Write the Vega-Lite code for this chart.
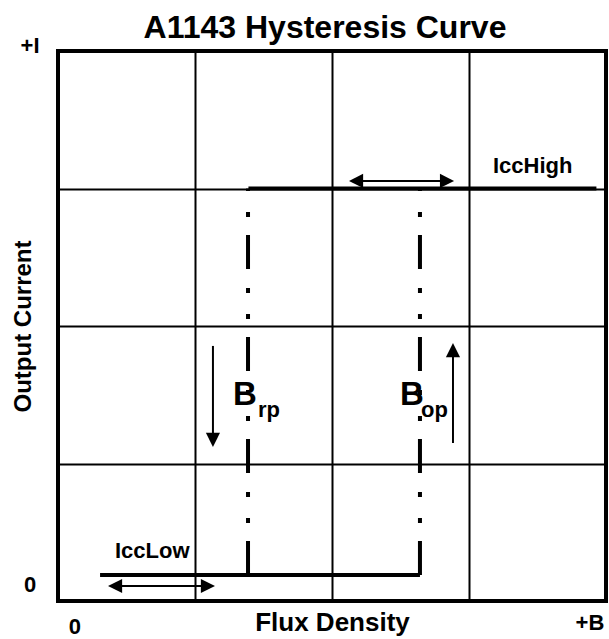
{
  "$schema": "https://vega.github.io/schema/vega-lite/v6.json",
  "width": 548,
  "height": 550,
  "autosize": {"type": "none"},
  "padding": {"left": 58, "top": 51, "right": 3, "bottom": 38},
  "background": "white",
  "title": {"text": "A1143 Hysteresis Curve", "frame": "group", "fontSize": 32, "font": "Liberation Sans", "fontWeight": "bold", "color": "black", "anchor": "middle", "offset": -10, "dx": -7},
  "datasets": {
    "levels": [
      {"name": "IccHigh", "x": 1.39, "x2": 3.93, "y": 3.0},
      {"name": "IccLow", "x": 0.307, "x2": 2.642, "y": 0.189}
    ],
    "switch": [
      {"name": "Brp", "x": 1.387, "y": 0.189, "y2": 3.0},
      {"name": "Bop", "x": 2.642, "y": 0.189, "y2": 3.0}
    ],
    "shafts": [
      {"x": 2.15, "x2": 2.865, "y": 3.055, "y2": 3.055},
      {"x": 0.39, "x2": 1.12, "y": 0.109, "y2": 0.109},
      {"x": 1.131, "x2": 1.131, "y": 1.855, "y2": 1.15},
      {"x": 2.883, "x2": 2.883, "y": 1.149, "y2": 1.846}
    ],
    "heads": [
      {"x": 2.124, "y": 3.055, "dir": "left"},
      {"x": 2.891, "y": 3.055, "dir": "right"},
      {"x": 0.365, "y": 0.109, "dir": "left"},
      {"x": 1.146, "y": 0.109, "dir": "right"},
      {"x": 1.131, "y": 1.12, "dir": "down"},
      {"x": 2.883, "y": 1.876, "dir": "up"}
    ],
    "notes": [
      {"label": "IccHigh", "x": 3.175, "y": 3.113},
      {"label": "IccLow", "x": 0.416, "y": 0.313},
      {"label": "rp", "x": 1.46, "y": 1.338},
      {"label": "op", "x": 2.65, "y": 1.338}
    ],
    "bigB": [
      {"label": "B", "x": 1.277, "y": 1.425},
      {"label": "B", "x": 2.496, "y": 1.425}
    ],
    "ticks": [
      {"label": "+I", "x": -0.204, "y": 4.036},
      {"label": "0", "x": -0.204, "y": 0.116},
      {"label": "0", "x": 0.124, "y": -0.19},
      {"label": "+B", "x": 3.883, "y": -0.16}
    ]
  },
  "encoding": {
    "x": {"field": "x", "type": "quantitative", "scale": {"domain": [0, 4], "nice": false, "zero": false},
          "axis": {"values": [1, 2, 3], "title": "Flux Density", "titlePadding": 8, "titleFontSize": 26}},
    "y": {"field": "y", "type": "quantitative", "scale": {"domain": [0, 4], "nice": false, "zero": false},
          "axis": {"values": [1, 2, 3], "title": "Output Current", "titlePadding": 23, "titleFontSize": 24}}
  },
  "layer": [
    {
      "data": {"name": "levels"},
      "mark": {"type": "rule", "strokeWidth": 4, "color": "black", "strokeCap": "butt"},
      "encoding": {"x2": {"field": "x2"}}
    },
    {
      "data": {"name": "switch"},
      "mark": {"type": "rule", "strokeWidth": 4, "color": "black", "strokeCap": "butt", "strokeDash": [34, 18, 5, 21, 5, 19]},
      "encoding": {"y2": {"field": "y2"}}
    },
    {
      "data": {"name": "shafts"},
      "mark": {"type": "rule", "strokeWidth": 2, "color": "black", "strokeCap": "butt"},
      "encoding": {"x2": {"field": "x2"}, "y2": {"field": "y2"}}
    },
    {
      "data": {"name": "heads"},
      "mark": {"type": "point", "filled": true, "color": "black", "opacity": 1, "size": 200, "strokeWidth": 0},
      "encoding": {
        "shape": {"field": "dir", "type": "nominal", "legend": null,
                  "scale": {"domain": ["left", "right", "up", "down"],
                            "range": ["M0,0L2,-1L2,1Z", "M0,0L-2,-1L-2,1Z", "M0,0L-1,2L1,2Z", "M0,0L-1,-2L1,-2Z"]}}
      }
    },
    {
      "data": {"name": "notes"},
      "mark": {"type": "text", "align": "left", "baseline": "alphabetic", "font": "Liberation Sans", "fontWeight": "bold", "fontSize": 22, "color": "black"},
      "encoding": {"text": {"field": "label"}}
    },
    {
      "data": {"name": "bigB"},
      "mark": {"type": "text", "align": "left", "baseline": "alphabetic", "font": "Liberation Sans", "fontWeight": "bold", "fontSize": 33, "color": "black"},
      "encoding": {"text": {"field": "label"}}
    },
    {
      "data": {"name": "ticks"},
      "mark": {"type": "text", "align": "center", "baseline": "middle", "font": "Liberation Sans", "fontWeight": "bold", "fontSize": 22, "color": "black"},
      "encoding": {"text": {"field": "label"}}
    }
  ],
  "config": {
    "view": {"stroke": "black", "strokeWidth": 4},
    "axis": {"domain": false, "ticks": false, "labels": false, "grid": true, "gridColor": "black", "gridWidth": 2, "gridOpacity": 1,
             "titleFont": "Liberation Sans", "titleFontSize": 22, "titleFontWeight": "bold", "titleColor": "black"}
  }
}
